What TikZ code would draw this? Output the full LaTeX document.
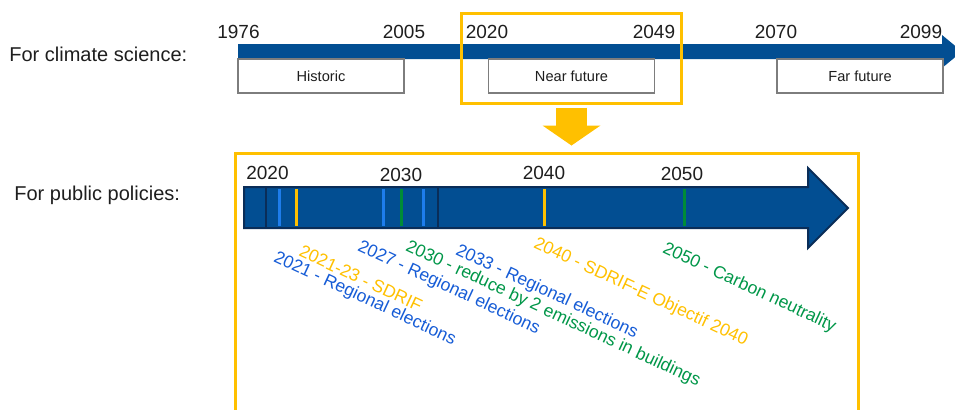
\documentclass[tikz,border=0pt]{standalone}
\usepackage{fontspec}
\setmainfont{Liberation Sans}
\usetikzlibrary{arrows.meta}
\definecolor{navy}{RGB}{2,78,146}
\definecolor{darknavy}{RGB}{10,45,88}
\definecolor{gold}{RGB}{255,192,0}
\definecolor{boxgray}{RGB}{125,125,125}
\definecolor{evblue}{RGB}{22,92,214}
\definecolor{tickblue}{RGB}{30,125,235}
\definecolor{evgreen}{RGB}{0,150,72}
\definecolor{tickgreen}{RGB}{0,140,55}
\definecolor{inkgray}{RGB}{30,30,30}
\begin{document}
\begin{tikzpicture}[x=0.5pt, y=-0.5pt,
    period/.style={rectangle, draw=boxgray, line width=0.6pt, fill=white, minimum width=83pt, minimum height=17pt, inner sep=0pt, font=\fontsize{7.3}{8.5}\selectfont, text=inkgray},
    year/.style={inner sep=0pt, font=\fontsize{9.5}{11}\selectfont, text=inkgray},
    side/.style={anchor=base west, inner sep=0pt, font=\fontsize{10}{12}\selectfont, text=inkgray},
    frame/.style={rectangle, draw=gold, line width=1.5pt, inner sep=0pt},
    event/.style={anchor=north west, inner sep=0pt, rotate=-25, font=\fontsize{8.8}{10}\selectfont},
    yeartick/.style={line width=1.5pt}]
        \useasboundingbox (0,0) rectangle (955,409);
        \clip (0,0) rectangle (955,409);

        \node[side] (c) at (9,61.5) {For climate science:};
        \node[side] (p) at (14,200) {For public policies:};

        \fill[navy] (238,44) -- (942,44) -- (942,35) -- (962,51.5) -- (942,68) -- (942,59) -- (238,59) -- cycle;
        \node[period] (h) at (321,76) {Historic};
        \node[period] (n) at (571.5,76) {Near future};
        \node[period] (f) at (860,76) {Far future};

        \node[year] (y1) at (238.5,31.5) {1976};
        \node[year] (y2) at (404,31.5) {2005};
        \node[year] (y3) at (487,31.5) {2020};
        \node[year] (y4) at (654,31.5) {2049};
        \node[year] (y5) at (776,31.5) {2070};
        \node[year] (y6) at (921,31.5) {2099};

        \node[frame, minimum width=110pt, minimum height=45pt] (b) at (571.5,58.5) {};
        \node[frame, minimum width=311.5pt, minimum height=143.25pt] (l) at (547,296.75) {};
        \coordinate (t) at (b.south |- l.north);
        \draw[gold, line width=15.5pt, -{Triangle[length=10pt, width=29pt, line width=0pt]}] ([yshift=-1.25pt]b.south) -- ([yshift=3.25pt]t);

        \filldraw[fill=navy, draw=darknavy, line width=1pt] (244,187) -- (808,187) -- (808,168) -- (848,208) -- (808,248) -- (808,228) -- (244,228) -- cycle;
        \draw[darknavy, line width=0.6pt] (266,188) -- (266,227);
        \draw[darknavy, line width=0.6pt] (438,188) -- (438,227);
        \draw[yeartick, tickblue] (279,189) -- (279,226);
        \draw[yeartick, gold] (296,189) -- (296,226);
        \draw[yeartick, tickblue] (383,189) -- (383,226);
        \draw[yeartick, tickgreen] (401,189) -- (401,226);
        \draw[yeartick, tickblue] (423,189) -- (423,226);
        \draw[yeartick, gold] (544,189) -- (544,226);
        \draw[yeartick, tickgreen] (684,189) -- (684,226);

        \node[year] (z1) at (267.5,172.5) {2020};
        \node[year] (z2) at (401,174.5) {2030};
        \node[year] (z3) at (544,172.5) {2040};
        \node[year] (z4) at (682,173.5) {2050};

        \node[event, text=evblue] (e1) at (278,249) {2021 - Regional elections};
        \node[event, text=gold] (e2) at (303,244) {2021-23 - SDRIF};
        \node[event, text=evblue] (e3) at (362,238) {2027 - Regional elections};
        \node[event, text=evgreen] (e4) at (410,238) {2030 - reduce by 2 emissions in buildings};
        \node[event, text=evblue] (e5) at (460,242) {2033 - Regional elections};
        \node[event, text=gold] (e6) at (538,235) {2040 - SDRIF-E Objectif 2040};
        \node[event, text=evgreen] (e7) at (667,240) {2050 - Carbon neutrality};

    \end{tikzpicture}
\end{document}
